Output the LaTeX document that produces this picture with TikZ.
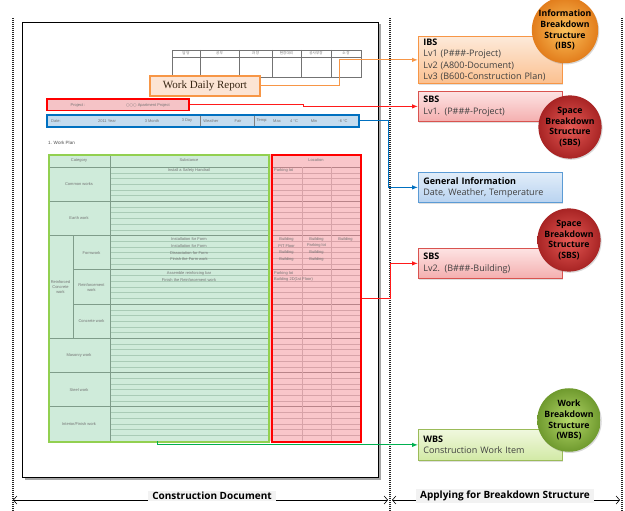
\documentclass[tikz,border=0pt]{standalone}
\usepackage{fontspec}
\setmainfont{Open Sans}
\newfontfamily\formfont{Liberation Sans}
\newfontfamily\titlefont{Liberation Serif}
\newfontfamily\symfont{DejaVu Sans}
\newfontfamily\krfont{Noto Sans CJK KR}
\usetikzlibrary{arrows.meta,shadows}

\definecolor{ibsOrange}{HTML}{F79646}
\definecolor{ibsFillTop}{HTML}{FDEADA}
\definecolor{ibsFillBot}{HTML}{FBC08F}
\definecolor{sbsRed}{HTML}{D9534F}
\definecolor{sbsFillTop}{HTML}{FDE3E3}
\definecolor{sbsFillBot}{HTML}{F4AFAF}
\definecolor{genBlue}{HTML}{5B9BD5}
\definecolor{genFillTop}{HTML}{E1EDF9}
\definecolor{genFillBot}{HTML}{B9D3F0}
\definecolor{wbsGreen}{HTML}{9BBB59}
\definecolor{wbsFillTop}{HTML}{F0F8DE}
\definecolor{wbsFillBot}{HTML}{D2E9A5}
\definecolor{lineOrange}{HTML}{F79646}
\definecolor{lineRed}{HTML}{FF1A1A}
\definecolor{lineBlue}{HTML}{0070C0}
\definecolor{lineGreen}{HTML}{00B050}
\definecolor{mintFill}{HTML}{CFEBDA}
\definecolor{pinkFill}{HTML}{F9C6CA}
\definecolor{planGreen}{HTML}{92D050}
\definecolor{planRed}{HTML}{FF0000}
\definecolor{projFill}{HTML}{F5C3C6}
\definecolor{dateFill}{HTML}{C5DCEF}
\definecolor{titleFill}{HTML}{FCE4D4}
\definecolor{gridMajor}{HTML}{7F9C8A}
\definecolor{gridMinor}{HTML}{A9CBB6}
\definecolor{gridPink}{HTML}{D7A3A8}
\definecolor{gridPinkMajor}{HTML}{B88489}
\definecolor{ballOrangeIn}{HTML}{FCC25C}
\definecolor{ballOrangeOut}{HTML}{E27D1C}
\definecolor{ballRedIn}{HTML}{E65A55}
\definecolor{ballRedOut}{HTML}{A82424}
\definecolor{ballGreenIn}{HTML}{B5D86A}
\definecolor{ballGreenOut}{HTML}{6F9A2E}

\begin{document}
\begin{tikzpicture}[x=1pt,y=-1pt,
  divider/.style={line width=1.6pt,dash pattern=on 1pt off 1pt,black!85},
  formtxt/.style={font=\formfont\fontsize{4}{4.6}\selectfont,text=black!55,inner sep=0pt,align=center},
  infobox/.style={draw,line width=0.8pt,minimum width=144pt,text width=134pt,
    inner xsep=5pt,inner ysep=1pt,align=left,anchor=north west,
    font=\fontsize{9}{11.5}\selectfont,text=black!75,
    drop shadow={shadow xshift=1pt,shadow yshift=-1.2pt,opacity=0.25}},
  ball/.style={circle,minimum size=52pt,inner sep=0pt,align=center,
    font=\bfseries\fontsize{8.7}{10.8}\selectfont,text=black,
    drop shadow={shadow xshift=1pt,shadow yshift=-1.2pt,opacity=0.3}},
  link/.style={line width=1pt,-{Latex[length=6pt,width=4.5pt]}},
  dimline/.style={line width=0.6pt,{Straight Barb[length=3.5pt,width=8pt]}-{Straight Barb[length=3.5pt,width=8pt]}},
  dimlabel/.style={fill=black!5,inner xsep=4pt,inner ysep=1.5pt,font=\bfseries\fontsize{10}{12}\selectfont}]

\useasboundingbox (0,0) rectangle (625,511);

% section dividers
\draw[divider] (13,18) -- (13,511);
\draw[divider] (390,18) -- (390,511);
\draw[divider] (622,18) -- (622,511);

% the report sheet
\fill[black!35] (24.5,24.5) rectangle (380.5,479.5);
\node[draw,line width=1pt,fill=white,minimum width=356pt,minimum height=455pt,inner sep=0pt,anchor=north west] (sheet) at (22,22) {};

% approval stamp grid
\draw[black!55,line width=0.5pt] (172,50) rectangle (361,77);
\draw[black!55,line width=0.4pt] (172,57) -- (361,57);
\foreach \xx in {200,239,272,301,331}{\draw[black!55,line width=0.5pt] (\xx,50) -- (\xx,77);}
\node[formtxt,font=\krfont\fontsize{3.6}{4}\selectfont] (ap1) at (186,53.5) {담 당};
\node[formtxt,font=\krfont\fontsize{3.6}{4}\selectfont] (ap2) at (219.5,53.5) {공무};
\node[formtxt,font=\krfont\fontsize{3.6}{4}\selectfont] (ap3) at (255.5,53.5) {과 장};
\node[formtxt,font=\krfont\fontsize{3.6}{4}\selectfont] (ap4) at (286.5,53.5) {현장대리};
\node[formtxt,font=\krfont\fontsize{3.6}{4}\selectfont] (ap5) at (316,53.5) {공사부장};
\node[formtxt,font=\krfont\fontsize{3.6}{4}\selectfont] (ap6) at (346,53.5) {소 장};

% title of the report
\node[draw=ibsOrange,line width=1.3pt,fill=titleFill,minimum width=110pt,minimum height=20pt,inner sep=0pt,
  font=\titlefont\fontsize{11}{13}\selectfont,text=black!72!brown] (wdr) at (205,86) {Work Daily Report};

% project line
\node[draw=planRed,line width=1.5pt,fill=projFill,minimum width=142pt,minimum height=11.5pt,inner sep=0pt] (proj) at (118,105) {};
\node[formtxt] (projlab) at (78,105) {Project :};
\node[formtxt] (projname) at (148,105) {{\symfont ○○○} Apartment Project};

% date / weather / temperature line
\node[draw=lineBlue,line width=1.5pt,fill=dateFill,minimum width=312pt,minimum height=12pt,inner sep=0pt] (date) at (203,121) {};
\draw[black!50,line width=0.5pt] (200,116) -- (200,126) (254,116) -- (254,126);
\node[formtxt,anchor=west] (d1) at (51,121) {Date:};
\node[formtxt] (d2) at (107,121) {2011 Year};
\node[formtxt] (d3) at (152,121) {3 Month};
\node[formtxt] (d4) at (187,121) {3 Day};
\node[formtxt] (d5) at (211,121) {Weather};
\node[formtxt] (d6) at (238,121) {Fair};
\node[formtxt] (d7) at (262,121) {Temp:};
\node[formtxt] (d8) at (277,121) {Max};
\node[formtxt] (d9) at (294,121) {4 °C};
\node[formtxt] (d10) at (314,121) {Min};
\node[formtxt] (d11) at (343,121) {-6 °C};

\node[formtxt,anchor=west,font=\formfont\fontsize{4.6}{5}\selectfont,text=black!70] (wp) at (48,143) {1. Work Plan};

% work plan table: fills
\fill[mintFill] (48,154) rectangle (269.5,441);
\fill[pinkFill] (269.5,154) rectangle (360,441);

% work plan table: minor rows
\foreach \s in {0,...,7}{
  \foreach \k in {1,...,5}{
    \pgfmathsetmacro\yy{167+\s*34.25+\k*5.708}
    \draw[gridMinor,line width=0.35pt] (110,\yy) -- (268,\yy);
    \draw[gridPink,line width=0.35pt] (271,\yy) -- (360,\yy);
  }
}
% work plan table: section rows
\draw[gridMajor,line width=0.7pt] (48,167) -- (268,167);
\draw[gridPinkMajor,line width=0.7pt] (271,167) -- (360,167);
\foreach \s in {1,2,5,6,7}{
  \pgfmathsetmacro\yy{167+\s*34.25}
  \draw[gridMajor,line width=0.7pt] (48,\yy) -- (268,\yy);
}
\foreach \s in {3,4}{
  \pgfmathsetmacro\yy{167+\s*34.25}
  \draw[gridMajor,line width=0.7pt] (73,\yy) -- (268,\yy);
}
\foreach \s in {1,...,7}{
  \pgfmathsetmacro\yy{167+\s*34.25}
  \draw[gridPinkMajor,line width=0.7pt] (271,\yy) -- (360,\yy);
}
% work plan table: columns
\draw[gridMajor,line width=0.7pt] (110,154) -- (110,441);
\draw[gridMajor,line width=0.7pt] (73,235.5) -- (73,338.25);
\draw[gridPink,line width=0.5pt] (302,167) -- (302,441) (331,167) -- (331,441);

% work plan table: texts
\node[formtxt] (h1) at (79,160.5) {Category};
\node[formtxt] (h2) at (189,160.5) {Substance};
\node[formtxt] (h3) at (316,160.5) {Location};
\node[formtxt] (c1) at (79,184) {Common works};
\node[formtxt] (c2) at (79,218.5) {Earth work};
\node[formtxt] (c3) at (60.5,287) {Reinforced\\Concrete\\work};
\node[formtxt] (c3a) at (91.5,253) {Formwork};
\node[formtxt] (c3b) at (91.5,287.5) {Reinforcement\\work};
\node[formtxt] (c3c) at (91.5,321) {Concrete work};
\node[formtxt] (c4) at (79,355.5) {Masonry work};
\node[formtxt] (c5) at (79,390) {Steel work};
\node[formtxt] (c6) at (79,424) {Interior/Finish work};
\node[formtxt] (s1) at (189,170.5) {Install a Safety Handrail};
\node[formtxt] (s2) at (189,239) {Installation for Form};
\node[formtxt] (s3) at (189,245.8) {Installation for Form};
\node[formtxt] (s4) at (189,252.6) {Dissociation for Form};
\node[formtxt] (s5) at (189,259.4) {Finish the Form work};
\node[formtxt] (s6) at (189,273) {Assemble reinforcing bar};
\node[formtxt] (s7) at (189,279.8) {Finish the Reinforcement work};
\node[formtxt,anchor=west] (l1) at (274,170.5) {Parking lot};
\node[formtxt] (l2) at (286.5,239) {Building};
\node[formtxt] (l3) at (316.5,239) {Building};
\node[formtxt] (l4) at (345.5,239) {Building};
\node[formtxt] (l5) at (286.5,245.8) {PIT Floor};
\node[formtxt] (l6) at (316.5,245.8) {Parking lot};
\node[formtxt] (l7) at (286.5,252.6) {Building};
\node[formtxt] (l8) at (316.5,252.6) {Building};
\node[formtxt] (l9) at (286.5,259.4) {Building};
\node[formtxt] (l10) at (316.5,259.4) {Building};
\node[formtxt,anchor=west] (l11) at (274,273) {Parking lot};
\node[formtxt,anchor=west] (l12) at (274,279.8) {Building 2D(1st Floor)};

% work plan table: highlighted column groups
\node[draw=planGreen,line width=2pt,minimum width=220pt,minimum height=287pt,inner sep=0pt,anchor=north west] (plan) at (48,154) {};
\node[draw=planRed,line width=2pt,minimum width=89pt,minimum height=287pt,inner sep=0pt,anchor=north west] (loc) at (271,154) {};
\coordinate (plantap) at (157,441);

% breakdown structure boxes
\node[infobox,draw=ibsOrange,top color=ibsFillTop,bottom color=ibsFillBot,minimum height=47pt] (ibs) at (418,36)
  {{\bfseries\color{black}IBS}\\Lv1 (P\#\#\#-Project)\\Lv2 (A800-Document)\\Lv3 (B600-Construction Plan)};
\node[infobox,draw=sbsRed,top color=sbsFillTop,bottom color=sbsFillBot,minimum height=30pt] (sbs1) at (418,91)
  {{\bfseries\color{black}SBS}\\Lv1. (P\#\#\#-Project)};
\node[infobox,draw=genBlue,top color=genFillTop,bottom color=genFillBot,minimum height=30pt] (gen) at (418,172)
  {{\bfseries\color{black}General Information}\\Date, Weather, Temperature};
\node[infobox,draw=sbsRed,top color=sbsFillTop,bottom color=sbsFillBot,minimum height=30pt] (sbs2) at (418,248)
  {{\bfseries\color{black}SBS}\\Lv2. (B\#\#\#-Building)};
\node[infobox,draw=wbsGreen,top color=wbsFillTop,bottom color=wbsFillBot,minimum height=31pt] (wbs) at (418,429)
  {{\bfseries\color{black}WBS}\\Construction Work Item};

% structure badges
\node[ball,inner color=ballOrangeIn,outer color=ballOrangeOut] (ibsball) at (565,30)
  {Information\\Breakdown\\Structure\\(IBS)};
\node[ball,inner color=ballRedIn,outer color=ballRedOut] (sbsball1) at (570,127)
  {Space\\Breakdown\\Structure\\(SBS)};
\node[ball,inner color=ballRedIn,outer color=ballRedOut] (sbsball2) at (569,240)
  {Space\\Breakdown\\Structure\\(SBS)};
\node[ball,inner color=ballGreenIn,outer color=ballGreenOut] (wbsball) at (569,420)
  {Work\\Breakdown\\Structure\\(WBS)};

% connectors
\draw[link,lineOrange] (wdr.east) -- ++(79,0) |- (ibs.west);
\draw[link,lineRed] (proj.east) -- ++(114,0) |- (sbs1.west);
\draw[link,lineBlue] (date.east) -- ++(29,0) |- (gen.west);
\draw[link,lineRed] (loc.east) -- ++(28,0) |- (sbs2.west);
\draw[link,lineGreen] (plantap) |- (wbs.west);

% extent markers
\coordinate (cdl) at (13,500);
\coordinate (cdr) at (388,500);
\coordinate (abl) at (392,500);
\coordinate (abr) at (620,500);
\draw[dimline] (cdl) -- (cdr);
\draw[dimline] (abl) -- (abr);
\node[dimlabel] (cdlab) at (212,496) {Construction Document};
\node[dimlabel] (ablab) at (505,496) {Applying for Breakdown Structure};
\end{tikzpicture}
\end{document}
